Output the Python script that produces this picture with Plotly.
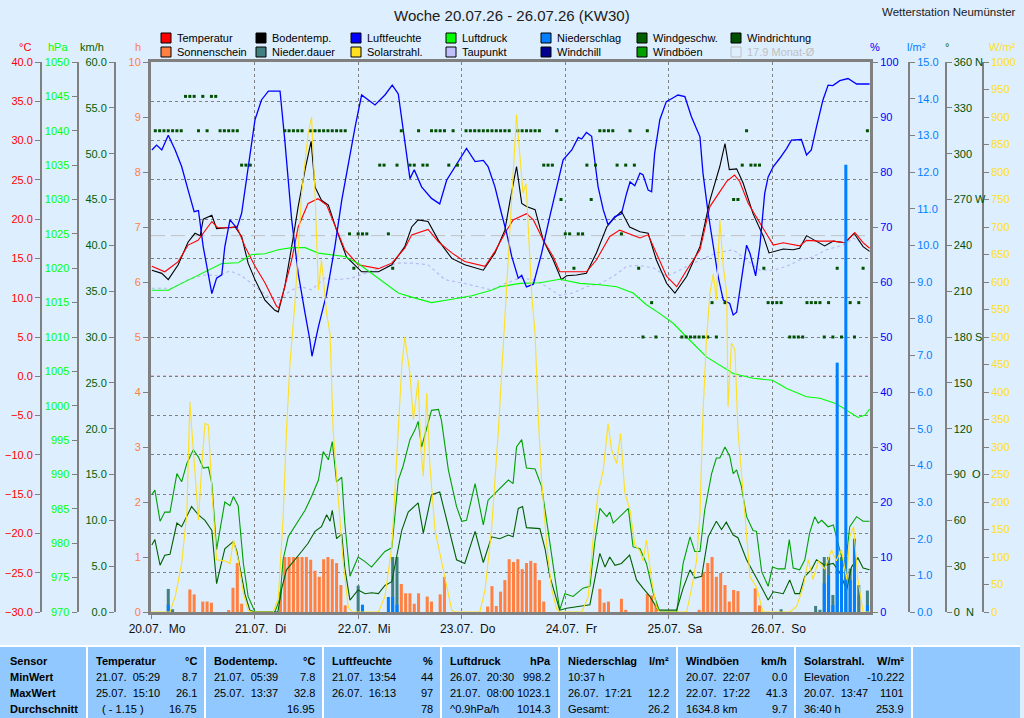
import plotly.graph_objects as go

FONT = "Liberation Sans"
W, H = 1024, 718
PL, PR, PT, PB = 151, 870, 62, 612   # plot frame in pixels


def fx(px):
    return px / W


def fy(py):
    return 1 - py / H


# ---- data (hours since 20.07.26 00:00) ----
day_labels = ["20.07.  Mo", "21.07.  Di", "22.07.  Mi", "23.07.  Do", "24.07.  Fr", "25.07.  Sa", "26.07.  So"]
x_end = 166.6
month_avg = 17.9

temperature = [(0.2, 14.0), (3.2, 13.3), (6.3, 14.6), (8.6, 16.7), (10.9, 17.3), (14.1, 19.7), (15.5, 18.9),
               (18.7, 18.9), (19.7, 19.1), (20.2, 18.6), (21.8, 16.5), (24.1, 14.0), (26.4, 11.9), (29.1, 8.9),
               (29.6, 8.7), (30.6, 10.6), (32.6, 14.8), (34.1, 19.0), (36.4, 22.0), (38.7, 22.6), (40.7, 21.8),
               (43.0, 18.6), (44.9, 16.1), (48.0, 14.2), (52.7, 13.7), (55.8, 14.4), (58.8, 16.3), (60.4, 18.0),
               (64.2, 18.7), (66.6, 17.1), (69.7, 15.7), (72.7, 14.6), (77.4, 14.0), (79.7, 15.9), (82.0, 18.2),
               (83.9, 19.9), (85.5, 20.3), (87.0, 20.7), (88.6, 19.9), (90.9, 17.3), (93.2, 15.2), (94.7, 13.3),
               (97.1, 13.3), (100.9, 13.3), (103.2, 14.8), (106.3, 17.8), (108.6, 18.6), (110.9, 18.1),
               (113.3, 17.6), (115.2, 18.0), (117.1, 15.7), (119.5, 12.7), (121.8, 11.4), (124.1, 13.5),
               (127.2, 16.1), (129.5, 21.6), (133.4, 24.8), (134.9, 25.4), (135.2, 25.6), (136.4, 24.8),
               (138.4, 22.0), (141.1, 19.5), (144.2, 16.7), (146.5, 17.0), (150.3, 16.6), (151.9, 17.3),
               (155.0, 17.2), (158.1, 17.2), (160.8, 17.0), (163.1, 18.3), (165.0, 17.0), (166.5, 16.3)]

soil_temp = [(0.2, 13.5), (2.5, 13.1), (4.0, 12.3), (6.3, 14.2), (8.6, 17.1), (10.2, 18.2), (11.4, 17.9),
             (12.1, 20.0), (14.1, 20.5), (15.2, 18.8), (19.5, 19.0), (21.0, 17.8), (22.5, 14.4), (24.1, 12.3),
             (26.4, 9.7), (28.7, 8.4), (29.5, 8.2), (31.0, 11.4), (32.6, 16.5), (34.1, 21.6), (35.7, 26.3),
             (37.1, 29.9), (38.0, 24.1), (39.5, 22.4), (41.1, 21.8), (43.0, 18.6), (45.3, 15.2), (48.8, 13.3),
             (52.7, 13.3), (55.8, 14.2), (58.8, 16.5), (60.4, 19.0), (61.9, 19.9), (64.2, 19.7), (66.6, 17.3),
             (69.7, 15.0), (72.7, 14.2), (77.0, 13.5), (79.7, 15.7), (82.0, 18.6), (83.2, 22.4), (84.7, 26.7),
             (85.9, 22.0), (87.0, 21.6), (89.0, 21.2), (90.9, 17.3), (93.2, 14.8), (95.1, 12.3), (96.3, 12.8),
             (98.6, 12.9), (100.9, 13.1), (103.2, 15.7), (105.6, 19.0), (107.1, 20.0), (109.0, 21.0),
             (110.9, 19.0), (113.3, 18.4), (115.2, 18.2), (117.1, 14.8), (119.5, 11.8), (121.4, 10.6),
             (124.1, 12.7), (127.2, 16.5), (129.5, 22.4), (131.8, 26.7), (133.0, 29.6), (134.0, 26.3),
             (135.7, 26.4), (137.2, 24.6), (139.5, 20.7), (141.9, 17.8), (143.2, 15.7), (146.5, 16.2),
             (148.8, 16.1), (150.3, 16.3), (151.9, 17.9), (153.8, 17.3), (156.1, 16.6), (158.1, 17.2),
             (160.8, 17.0), (162.9, 18.2), (165.0, 16.5), (166.5, 15.9)]

humidity = [(0.2, 84.0), (1.3, 84.9), (2.5, 84.0), (4.0, 86.7), (5.6, 84.0), (7.1, 81.0), (8.6, 76.7),
            (10.0, 72.8), (11.0, 73.0), (12.1, 66.4), (14.1, 57.9), (15.2, 60.7), (16.4, 61.3), (17.1, 66.4),
            (18.3, 71.3), (19.9, 69.8), (21.0, 72.5), (22.5, 80.4), (24.1, 89.5), (25.6, 93.1), (27.2, 94.7),
            (29.9, 94.7), (31.0, 85.8), (32.6, 71.3), (34.1, 61.6), (35.7, 54.3), (36.8, 49.5), (37.3, 46.5),
            (38.8, 51.9), (40.7, 57.9), (42.6, 66.4), (44.2, 74.9), (45.7, 81.6), (47.3, 88.2), (48.8, 94.0),
            (51.9, 92.2), (54.2, 94.0), (55.9, 95.8), (57.3, 94.2), (58.8, 85.8), (60.0, 78.8), (61.0, 80.4),
            (62.7, 77.3), (65.0, 75.2), (66.9, 74.2), (68.5, 78.5), (70.4, 81.0), (73.1, 84.3), (75.1, 81.9),
            (77.0, 82.1), (78.1, 81.0), (79.7, 77.3), (81.2, 72.5), (82.4, 68.9), (83.6, 64.6), (85.1, 60.7),
            (85.9, 61.2), (87.0, 59.1), (88.6, 59.6), (90.5, 65.2), (92.4, 71.9), (94.0, 77.3), (95.5, 82.2),
            (97.5, 84.0), (99.0, 86.3), (99.8, 86.0), (100.9, 87.2), (102.1, 86.5), (102.8, 82.2),
            (103.6, 77.3), (104.8, 73.1), (105.9, 70.4), (107.5, 71.9), (109.0, 72.4), (110.2, 76.1),
            (111.0, 78.2), (112.1, 77.5), (113.3, 79.8), (114.0, 79.5), (115.2, 76.7), (116.0, 76.4),
            (116.7, 83.4), (117.9, 89.5), (119.4, 92.8), (121.0, 93.5), (122.1, 94.0), (123.7, 93.7),
            (125.2, 90.1), (127.2, 86.4), (127.9, 79.8), (129.1, 72.5), (130.3, 66.4), (131.4, 61.0),
            (132.6, 56.7), (134.1, 56.1), (134.9, 54.0), (135.7, 54.5), (136.8, 60.4), (138.0, 66.7),
            (138.8, 65.2), (139.5, 62.8), (140.1, 61.1), (141.1, 66.7), (142.2, 76.1), (143.0, 79.1),
            (144.2, 81.0), (145.7, 82.5), (147.3, 84.3), (148.4, 85.8), (150.7, 85.9), (151.9, 83.1),
            (153.0, 84.0), (154.2, 88.2), (155.7, 93.1), (156.9, 95.8), (158.0, 95.7), (159.6, 96.6),
            (161.5, 97.0), (163.5, 96.0), (166.5, 96.0)]

pressure = [(0.2, 1016.8), (4.0, 1016.8), (7.1, 1017.8), (10.2, 1018.8), (14.1, 1020.0), (16.4, 1020.7),
            (20.2, 1020.8), (23.3, 1022.0), (26.4, 1022.1), (29.5, 1022.7), (32.6, 1023.0), (35.7, 1023.0),
            (38.8, 1022.2), (41.9, 1022.0), (44.9, 1021.7), (48.0, 1020.7), (51.1, 1019.3), (54.2, 1017.8),
            (57.3, 1016.4), (60.4, 1015.8), (65.0, 1015.0), (69.7, 1015.5), (74.3, 1016.0), (78.9, 1016.8),
            (80.8, 1017.3), (85.5, 1017.8), (90.1, 1017.9), (94.7, 1018.4), (99.4, 1017.8), (104.0, 1017.6),
            (107.9, 1017.3), (111.7, 1016.4), (114.8, 1014.7), (117.9, 1013.4), (121.0, 1012.0),
            (124.1, 1010.0), (128.7, 1007.1), (134.9, 1004.7), (139.5, 1004.0), (144.0, 1003.7),
            (147.3, 1002.5), (151.9, 1001.3), (155.0, 1001.1), (158.8, 1000.3), (161.2, 999.4),
            (163.8, 998.3), (165.4, 998.6), (166.5, 999.5)]

dew_point = [(0.2, 11.2), (4.8, 11.2), (8.6, 12.3), (12.5, 12.9), (15.6, 12.8), (18.3, 13.4), (21.0, 12.8),
             (24.1, 11.4), (27.2, 10.1), (29.5, 9.7), (32.6, 11.0), (34.9, 11.4), (37.2, 11.0), (40.3, 12.5),
             (43.4, 12.3), (46.5, 12.5), (49.6, 13.1), (52.7, 13.7), (57.3, 14.4), (60.4, 14.4), (64.2, 14.2),
             (68.1, 12.3), (72.7, 11.8), (75.8, 11.4), (78.9, 11.0), (82.0, 11.8), (85.5, 12.5), (88.6, 12.3),
             (91.7, 11.4), (94.7, 10.3), (97.8, 10.6), (100.9, 11.4), (104.0, 11.8), (107.1, 12.7),
             (110.2, 14.0), (113.3, 14.1), (116.4, 13.8), (119.5, 12.7), (122.5, 13.5), (127.2, 14.8),
             (131.0, 15.7), (134.9, 16.1), (138.0, 14.8), (141.1, 13.5), (144.2, 13.5), (147.3, 14.0),
             (150.3, 14.8), (153.4, 15.2), (156.5, 16.1), (160.4, 16.7), (162.7, 17.6), (165.8, 16.7)]

wind_gust = [(0.2, 12.8), (0.9, 13.3), (2.1, 9.9), (3.2, 10.9), (4.4, 10.9), (6.0, 15.1), (7.1, 14.2),
             (8.3, 16.2), (9.8, 17.7), (11.0, 16.9), (12.1, 15.7), (13.3, 15.8), (14.1, 14.0), (15.2, 6.8),
             (17.1, 12.0), (18.3, 11.6), (19.1, 12.6), (20.2, 11.6), (21.4, 5.3), (22.5, 1.7), (24.1, 0.0),
             (28.7, 0.0), (29.9, 1.5), (30.6, 5.7), (31.8, 8.2), (34.1, 10.0), (35.7, 11.1), (37.2, 12.6),
             (38.8, 14.4), (39.9, 17.5), (41.1, 16.6), (42.0, 18.6), (43.0, 14.2), (44.2, 14.7), (44.9, 9.7),
             (46.1, 3.9), (48.0, 6.0), (49.6, 5.5), (51.1, 4.9), (52.7, 5.8), (54.2, 6.6), (55.8, 7.0),
             (57.3, 14.4), (58.4, 15.9), (60.0, 18.8), (61.2, 19.9), (61.9, 20.8), (62.7, 18.0), (64.2, 20.6),
             (65.0, 22.0), (66.6, 22.1), (67.3, 20.9), (68.9, 15.5), (70.8, 11.5), (72.0, 9.9), (73.1, 10.0),
             (75.1, 14.0), (77.0, 9.5), (78.1, 12.2), (80.5, 13.3), (82.8, 14.4), (83.9, 14.0), (84.7, 18.0),
             (85.9, 18.8), (87.0, 15.7), (89.0, 15.6), (90.5, 13.7), (92.0, 8.9), (93.6, 3.9), (94.7, 0.2),
             (95.9, 2.0), (97.8, 1.7), (100.1, 2.6), (101.7, 2.8), (102.8, 7.5), (104.0, 11.3), (105.6, 10.4),
             (106.3, 10.9), (107.1, 9.7), (108.6, 10.4), (110.6, 11.3), (111.7, 7.1), (113.3, 6.9),
             (114.8, 5.3), (116.4, 2.0), (117.9, 0.0), (121.8, 0.0), (123.3, 5.3), (124.9, 8.2), (126.0, 6.6),
             (127.2, 6.6), (128.3, 11.1), (129.9, 15.1), (131.0, 16.8), (131.8, 16.8), (133.0, 18.0),
             (134.1, 17.0), (134.9, 15.1), (135.7, 15.5), (136.8, 13.7), (138.0, 10.4), (139.5, 8.9),
             (140.3, 8.8), (141.5, 4.4), (143.0, 2.8), (144.0, 4.9), (145.3, 4.7), (146.9, 4.7), (147.9, 7.9),
             (148.8, 4.8), (150.3, 4.6), (151.5, 5.7), (152.6, 8.6), (153.8, 10.4), (154.6, 9.7),
             (155.4, 10.0), (156.9, 9.3), (158.1, 9.5), (159.6, 6.8), (160.8, 4.6), (161.9, 9.3),
             (163.5, 10.4), (165.0, 9.9), (166.5, 9.9)]

wind_speed = [(0.2, 7.3), (0.9, 7.9), (2.1, 5.1), (3.2, 6.2), (4.4, 6.3), (6.0, 9.7), (7.1, 9.3), (9.4, 11.5),
              (11.0, 10.6), (12.5, 10.0), (14.1, 8.9), (15.2, 3.1), (17.1, 6.9), (19.1, 7.7), (19.9, 6.6),
              (20.6, 4.8), (21.8, 1.9), (22.9, 0.2), (24.1, 0.0), (29.4, 0.0), (30.3, 2.6), (31.4, 4.6),
              (33.4, 5.7), (34.9, 6.6), (36.4, 7.5), (38.0, 8.8), (39.5, 9.3), (40.7, 10.6), (41.5, 9.9),
              (42.0, 11.1), (43.0, 8.0), (44.2, 8.5), (44.9, 4.8), (46.1, 1.3), (48.0, 2.4), (49.6, 2.0),
              (51.1, 2.1), (52.7, 2.0), (54.2, 2.9), (55.8, 3.3), (56.9, 6.0), (58.1, 8.9), (59.6, 10.9),
              (61.9, 11.9), (63.1, 8.6), (65.0, 12.8), (66.9, 13.1), (68.9, 9.3), (70.8, 5.7), (72.7, 5.3),
              (75.1, 8.8), (77.0, 5.4), (78.9, 8.2), (80.8, 8.0), (82.8, 8.4), (83.9, 8.2), (85.1, 11.3),
              (86.1, 11.5), (87.0, 9.2), (90.1, 9.1), (91.3, 6.9), (92.4, 3.9), (93.6, 2.0), (94.7, 0.2),
              (96.3, 0.4), (99.4, 0.6), (101.7, 0.8), (102.8, 3.5), (104.0, 6.4), (105.2, 4.9), (106.3, 6.0),
              (107.5, 5.1), (109.0, 5.3), (110.9, 6.2), (112.5, 3.5), (114.0, 2.6), (115.6, 1.7), (117.5, 0.2),
              (121.8, 0.2), (123.3, 2.6), (124.9, 4.6), (126.0, 3.7), (127.6, 3.9), (129.1, 8.2), (131.0, 9.9),
              (132.2, 9.0), (133.3, 9.8), (134.9, 8.4), (136.0, 8.1), (138.0, 5.7), (139.9, 4.1), (141.8, 2.4),
              (143.0, 1.3), (144.2, 2.2), (146.5, 2.0), (148.0, 3.5), (149.2, 2.0), (150.3, 2.0), (151.5, 3.9),
              (153.0, 4.6), (154.2, 5.7), (156.1, 5.1), (158.1, 5.3), (159.6, 4.3), (161.2, 2.4),
              (162.3, 4.9), (163.8, 5.9), (165.0, 4.8), (166.5, 4.6)]

solar = [(0.0, 0), (4.4, 0), (5.6, 28), (7.1, 88), (8.3, 179), (9.0, 382), (9.8, 295), (11.0, 167), (11.7, 258),
         (12.5, 343), (13.3, 340), (14.1, 222), (15.2, 95), (17.1, 93), (18.3, 88), (19.1, 131), (20.2, 95),
         (21.4, 34), (22.5, 3), (23.4, 0),
         (28.3, 0), (29.5, 25), (30.6, 170), (31.4, 331), (32.2, 452), (32.6, 495), (33.4, 567), (34.9, 761),
         (36.4, 870), (37.2, 900), (38.0, 761), (38.8, 585), (39.5, 640), (40.7, 543), (41.5, 505),
         (42.2, 331), (43.4, 210), (44.5, 93), (45.7, 9), (46.6, 0),
         (52.7, 0), (54.2, 28), (55.8, 119), (57.3, 331), (58.1, 446), (58.8, 500), (60.0, 434), (60.8, 349),
         (61.9, 422), (62.5, 300), (63.1, 247), (63.9, 398), (64.6, 270), (65.8, 149), (67.3, 93),
         (68.5, 48), (69.7, 3), (70.4, 0),
         (76.2, 0), (77.4, 40), (78.9, 149), (80.5, 331), (81.6, 482), (82.4, 579), (83.6, 761), (84.7, 904),
         (85.5, 828), (86.2, 761), (86.9, 779), (87.4, 700), (88.2, 579), (89.0, 505), (89.7, 361),
         (90.5, 240), (91.7, 122), (92.8, 43), (94.0, 5), (94.7, 0),
         (99.8, 0), (101.3, 28), (102.5, 137), (103.6, 216), (104.8, 258), (105.9, 343), (106.7, 295),
         (107.9, 270), (108.8, 325), (109.8, 216), (111.0, 185), (112.1, 122), (113.3, 111), (114.0, 93),
         (114.8, 131), (116.0, 59), (117.1, 9), (117.9, 0),
         (124.1, 0), (125.2, 40), (126.4, 93), (127.2, 179), (127.9, 361), (128.7, 495), (129.5, 579),
         (130.3, 615), (131.0, 567), (131.8, 713), (132.6, 628), (133.4, 579), (133.7, 373), (134.5, 489),
         (135.3, 477), (136.0, 331), (137.2, 210), (138.8, 64), (140.3, 45), (141.8, 0),
         (148.0, 0), (149.6, 10), (151.1, 45), (152.3, 95), (153.4, 59), (154.6, 93), (156.1, 78),
         (157.7, 113), (158.8, 93), (160.0, 113), (161.2, 59), (161.9, 137), (162.8, 155), (163.8, 59),
         (165.0, 0), (166.5, 0)]

# hourly bars
sunshine = [(9, 0.41), (10, 0.32), (12, 0.19), (13, 0.19), (14, 0.17), (18, 0.03), (19, 0.44), (20, 0.89),
            (21, 0.15), (30, 0.37), (31, 1.0), (32, 1.0), (33, 1.0), (34, 1.0), (35, 1.0), (36, 1.0),
            (37, 0.95), (38, 0.75), (39, 0.64), (40, 0.96), (41, 1.0), (42, 0.96), (43, 0.89), (44, 0.49),
            (45, 0.12), (58, 0.51), (59, 0.34), (60, 0.34), (61, 0.15), (62, 0.34), (64, 0.28), (65, 0.19),
            (67, 0.32), (68, 0.64), (78, 0.1), (79, 0.47), (80, 0.11), (81, 0.37), (82, 0.58), (83, 0.96),
            (84, 0.91), (85, 0.96), (86, 0.78), (87, 0.89), (88, 0.93), (89, 0.89), (90, 0.58), (91, 0.19),
            (104, 0.42), (105, 0.17), (106, 0.19), (109, 0.24), (110, 0.04), (115, 0.33), (116, 0.30),
            (117, 0.15), (127, 0.04), (128, 0.73), (129, 0.89), (130, 1.0), (131, 0.64), (132, 0.71),
            (133, 0.49), (134, 0.19), (135, 0.40), (136, 0.38), (140, 0.43), (141, 0.12), (164, 0.31)]

rain_duration = [(4, 0.42), (5, 0.05), (48, 0.48), (56, 1.0), (57, 1.0), (146, 0.05), (154, 0.11), (155, 0.04),
                 (156, 1.0), (157, 1.0), (158, 0.31), (159, 1.0), (160, 1.0), (161, 1.0), (162, 0.79),
                 (163, 1.0), (164, 0.49), (166, 0.39)]

rain = [(4, 0.2), (49, 0.2), (55, 0.41), (56, 0.41), (57, 0.2), (156, 0.78), (157, 1.0), (158, 0.19),
        (159, 6.8), (160, 1.4), (161, 12.2), (162, 0.87), (163, 2.0), (166, 0.19)]

wind_dir = ([(h, 315) for h in (1, 2, 3, 4, 5, 6, 7, 11, 13, 16, 17, 18, 19, 20, 31, 32, 33, 34, 35, 37, 38, 39,
                                40, 41, 42, 43, 44, 45, 58, 62, 65, 66, 67, 68, 70, 73, 74, 75, 76, 77, 78, 79,
                                80, 81, 82, 83, 85, 86, 87, 88, 89, 90, 94, 104, 105, 106, 107, 111, 115, 138, 166)]
            + [(h, 337.5) for h in (8, 9, 10, 12, 14, 15)]
            + [(h, 292.5) for h in (21, 22, 23, 53, 54, 57, 60, 61, 63, 64, 69, 71, 91, 92, 93, 101, 103, 108,
                                    110, 112, 137, 139, 140, 141)]
            + [(h, 270) for h in (95, 102, 135, 136)]
            + [(h, 247.5) for h in (46, 48, 49, 50, 55, 96, 97, 99, 100, 109)]
            + [(h, 225) for h in (47, 56, 98, 113, 142, 159, 165)]
            + [(h, 202.5) for h in (116, 130, 133, 143, 144, 145, 146, 152, 153, 154, 155, 157, 162, 164)]
            + [(h, 180) for h in (114, 117, 123, 124, 125, 126, 127, 128, 129, 131, 148, 149, 150, 151, 156,
                                  158, 160, 163)])
wind_dir.sort()

dir_ticks = [0, 30, 60, 90, 120, 150, 180, 210, 240, 270, 300, 330, 360]
dir_text = ["0  N", "30", "60", "90  O", "120", "150", "180 S", "210", "240", "270 W", "300", "330", "360 N"]

legend = [("Temperatur", "#FF0000"), ("Sonnenschein", "#FF8040"), ("Bodentemp.", "#000000"),
          ("Nieder.dauer", "#408080"), ("Luftfeuchte", "#0000FF"), ("Solarstrahl.", "#FFE020"),
          ("Luftdruck", "#00FF00"), ("Taupunkt", "#C0C0FF"), ("Niederschlag", "#0080FF"),
          ("Windchill", "#000090"), ("Windgeschw.", "#006000"), ("Windböen", "#00A000"),
          ("Windrichtung", "#005000"), ("17.9 Monat-Ø", None)]

table_cols = [
    ("Temperatur", "°C", [("21.07.  05:29", "8.7"), ("25.07.  15:10", "26.1"), ("  ( - 1.15 )", "16.75")]),
    ("Bodentemp.", "°C", [("21.07.  05:39", "7.8"), ("25.07.  13:37", "32.8"), ("", "16.95")]),
    ("Luftfeuchte", "%", [("21.07.  13:54", "44"), ("26.07.  16:13", "97"), ("", "78")]),
    ("Luftdruck", "hPa", [("26.07.  20:30", "998.2"), ("21.07.  08:00", "1023.1"), ("^0.9hPa/h", "1014.3")]),
    ("Niederschlag", "l/m²", [("10:37 h", ""), ("26.07.  17:21", "12.2"), ("Gesamt:", "26.2")]),
    ("Windböen", "km/h", [("20.07.  22:07", "0.0"), ("22.07.  17:22", "41.3"), ("1634.8 km", "9.7")]),
    ("Solarstrahl.", "W/m²", [("Elevation", "-10.222"), ("20.07.  13:47", "1101"), ("36:40 h", "253.9")]),
]
row_names = ["Sensor", "MinWert", "MaxWert", "Durchschnitt"]


def xs(pairs):
    return [p[0] for p in pairs]


def ys(pairs):
    return [p[1] for p in pairs]


fig = go.Figure()


def line(pairs, color, axis, width=1.1, dash=None):
    fig.add_trace(go.Scatter(x=xs(pairs), y=ys(pairs), yaxis=axis, mode="lines",
                             line=dict(color=color, width=width, dash=dash), hoverinfo="skip"))


def bars(pairs, color, axis):
    fig.add_trace(go.Bar(x=xs(pairs), y=ys(pairs), yaxis=axis, width=0.7,
                         marker=dict(color=color, line=dict(width=0)), hoverinfo="skip"))


bars(sunshine, "#FF8040", "y")
bars(rain_duration, "#408080", "y")
bars(rain, "#0080FF", "y6")
line(solar, "#FFE020", "y8")
line(dew_point, "#B8B8F0", "y2", dash="dot")
line(pressure, "#00FF00", "y3")
line(wind_gust, "#00A000", "y4")
line(wind_speed, "#006000", "y4")
line(humidity, "#0000FF", "y5", width=1.3)
line(soil_temp, "#000000", "y2")
line(temperature, "#FF0000", "y2")
fig.add_trace(go.Scatter(x=xs(wind_dir), y=ys(wind_dir), yaxis="y7", mode="markers",
                         marker=dict(symbol="square", size=3, color="#005000"), hoverinfo="skip"))

GREY = "#808080"


def axis(color, rng, dtick, fmt=None, **kw):
    d = dict(range=rng, dtick=dtick, tick0=rng[0], showgrid=False, zeroline=False, showline=True,
             linecolor=GREY, linewidth=2, ticks="outside", ticklen=5, tickcolor=GREY, tickwidth=1,
             tickfont=dict(family=FONT, size=11, color=color), automargin=False, fixedrange=True)
    if fmt:
        d["tickformat"] = fmt
    d.update(kw)
    return d


fig.update_layout(
    template="none",
    width=W, height=H,
    margin=dict(l=0, r=0, t=0, b=0, pad=0),
    paper_bgcolor="#DDEEFF", plot_bgcolor="#DDEEFF",
    showlegend=False, barmode="overlay",
    font=dict(family=FONT, size=11, color="#000000"),
    xaxis=dict(domain=[fx(PL), fx(PR)], range=[0, x_end], tickmode="array",
               tickvals=[24 * i for i in range(len(day_labels))], ticktext=day_labels,
               showgrid=True, gridcolor=GREY, griddash="3px,3px", gridwidth=1, zeroline=False,
               showline=True, mirror=True, linecolor=GREY, linewidth=3, ticks="outside", ticklen=4,
               tickcolor=GREY, tickfont=dict(family=FONT, size=12, color="#101010"), ticklabelshift=6,
               automargin=False, fixedrange=True, anchor="y"),
    yaxis=axis("#FF8040", [0, 10], 1, domain=[fy(PB), fy(PT)], anchor="x", side="left",
               linewidth=3, mirror=True),
    yaxis2=axis("#FF0000", [-30, 40], 5, ".1f", overlaying="y", anchor="free", position=fx(41),
                side="left", showgrid=True, gridcolor=GREY, griddash="3px,3px", gridwidth=1),
    yaxis3=axis("#00FF00", [970, 1050], 5, overlaying="y", anchor="free", position=fx(77.5), side="left"),
    yaxis4=axis("#006000", [0, 60], 5, ".1f", overlaying="y", anchor="free", position=fx(115), side="left"),
    yaxis5=axis("#0000FF", [0, 100], 10, overlaying="y", anchor="x", side="right", linewidth=3),
    yaxis6=axis("#0080FF", [0, 15], 1, ".1f", overlaying="y", anchor="free", position=fx(909), side="right"),
    yaxis7=axis("#005000", [0, 360], 30, overlaying="y", anchor="free", position=fx(945.5), side="right",
                tickmode="array", tickvals=dir_ticks, ticktext=dir_text),
    yaxis8=axis("#FFE020", [0, 1000], 50, overlaying="y", anchor="free", position=fx(983), side="right"),
)

# frost line and monthly mean temperature
fig.add_shape(type="line", xref="x", yref="y2", x0=0, x1=x_end, y0=0, y1=0, layer="below",
              line=dict(color="#FF0000", width=1, dash="3px,3px"))
fig.add_shape(type="line", xref="x", yref="y2", x0=0, x1=x_end, y0=month_avg, y1=month_avg, layer="below",
              line=dict(color="#C0C0C0", width=1, dash="14px,6px"))

ann = []


def text(px, py, s, color="#000000", size=11, xanchor="center", bold=False):
    ann.append(dict(x=fx(px), y=fy(py), xref="paper", yref="paper", text=f"<b>{s}</b>" if bold else s,
                    showarrow=False, xanchor=xanchor, yanchor="middle",
                    font=dict(family=FONT, size=size, color=color)))


text(512, 15, "Woche 20.07.26 - 26.07.26 (KW30)", "#202020", 15)
text(1018, 12, "Wetterstation Neumünster", "#202020", 11.5, "right")

for px, s, c in [(25, "°C", "#FF0000"), (58, "hPa", "#00FF00"), (92, "km/h", "#006000"), (138, "h", "#FF8040"),
                 (875, "%", "#0000FF"), (916, "l/m²", "#0080FF"), (947, "°", "#006000"),
                 (1002, "W/m²", "#FFE020")]:
    text(px, 47, s, c, 11)

# legend (drawn by hand to match the two-row layout)
leg_x = [161, 256, 351, 446, 541, 637, 731]
for i, (name, color) in enumerate(legend):
    bx, by = leg_x[i // 2], 38 + 14 * (i % 2)
    edge = "#000000" if color else "#C0C0C0"
    fig.add_shape(type="rect", xref="paper", yref="paper", x0=fx(bx), x1=fx(bx + 10), y0=fy(by + 5),
                  y1=fy(by - 5), fillcolor=color or "rgba(0,0,0,0)", line=dict(color=edge, width=1))
    text(bx + 14, by, name, "#000000" if color else "#C0C0C0", 11, "left")

# statistics table
fig.add_shape(type="rect", xref="paper", yref="paper", x0=0, x1=fx(1020), y0=0, y1=fy(647),
              fillcolor="#90C8FF", line=dict(width=0))
fig.add_shape(type="line", xref="paper", yref="paper", x0=0, x1=fx(1020), y0=fy(646), y1=fy(646),
              line=dict(color="#FFFFFF", width=2))
seps = [87, 205, 323, 441, 559, 677, 795, 912]
for sx in seps:
    fig.add_shape(type="line", xref="paper", yref="paper", x0=fx(sx), x1=fx(sx), y0=0, y1=fy(647),
                  line=dict(color="#FFFFFF", width=2))
row_y = [661, 677, 693, 709]
for ry, name in zip(row_y, row_names):
    text(8, ry, name, "#000000", 11, "left", bold=True)
for i, (head, unit, rows) in enumerate(table_cols):
    left, right = seps[i] + 7, seps[i + 1] - 6
    text(left, row_y[0], head, "#000000", 11, "left", bold=True)
    text(right, row_y[0], unit, "#000000", 11, "right", bold=True)
    for ry, (a, b) in zip(row_y[1:], rows):
        if a:
            text(left, ry, a.replace("  ", "&nbsp; "), "#000000", 11, "left")
        if b:
            text(right, ry, b, "#000000", 11, "right")

fig.update_layout(annotations=ann)

fig.write_html("out.html", config={"displayModeBar": False},
               post_script="document.body.style.margin='0';document.body.style.overflow='hidden';")
